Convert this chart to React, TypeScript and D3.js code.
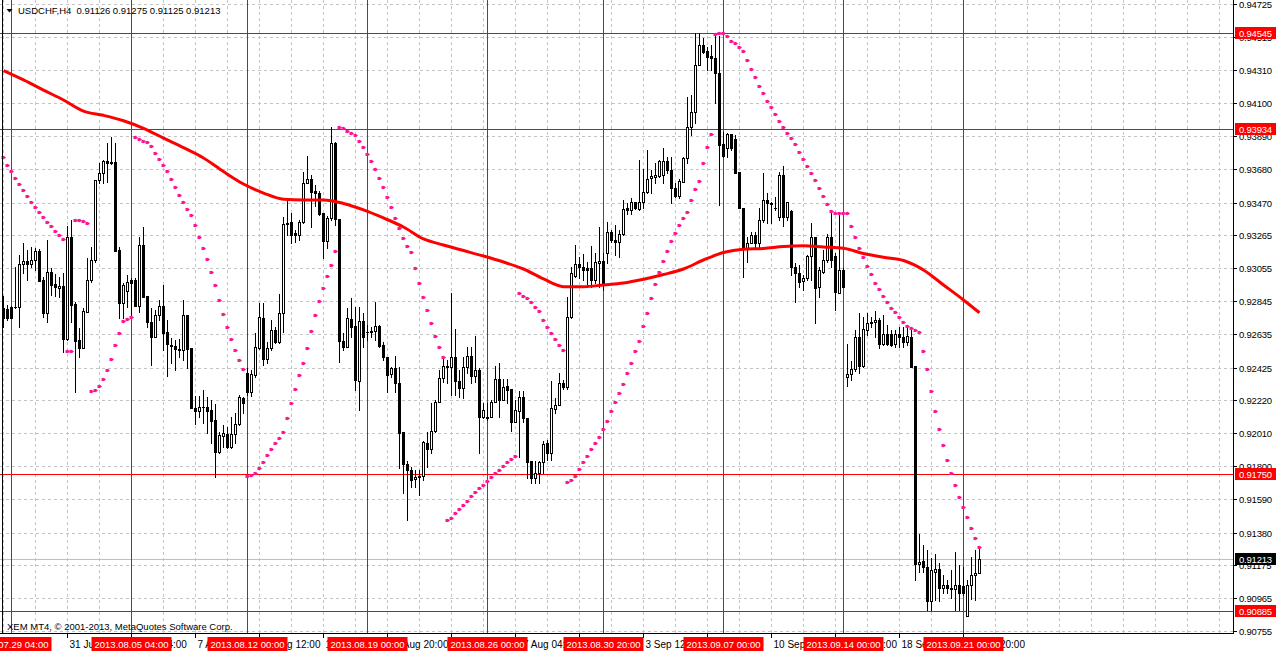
import React, { useEffect } from 'react';
import * as d3 from 'd3';

const W = 1276;
const H = 652;
const PLOT_R = 1233;
const PLOT_B = 633;

const opens = [
  0.92800,0.92796,0.92810,0.92810,0.92806,0.93078,0.93097,0.93080,0.93104,0.93163,
  0.92977,0.92772,0.93028,0.92954,0.92926,0.92941,0.92608,0.93249,0.92825,0.92599,
  0.92551,0.92779,0.92977,0.93104,0.93610,0.93657,0.93732,0.93724,0.93724,0.93169,
  0.92836,0.92907,0.92979,0.92979,0.92817,0.93199,0.92878,0.92711,0.92620,0.92758,
  0.92815,0.92650,0.92566,0.92561,0.92542,0.92536,0.92758,0.92549,0.92171,0.92150,
  0.92177,0.92177,0.92156,0.92093,0.91888,0.91994,0.92004,0.91920,0.92004,0.92066,
  0.92230,0.92388,0.92272,0.92380,0.92549,0.92737,0.92477,0.92549,0.92663,0.92589,
  0.92772,0.93332,0.93346,0.93275,0.93264,0.93344,0.93591,0.93616,0.93543,0.93528,
  0.93401,0.93228,0.93374,0.93844,0.93363,0.92591,0.92557,0.92733,0.92688,0.92342,
  0.92720,0.92652,0.92650,0.92657,0.92688,0.92566,0.92490,0.92384,0.92424,0.92325,
  0.92015,0.91813,0.91777,0.91718,0.91739,0.91739,0.91950,0.91908,0.92026,0.92209,
  0.92361,0.92435,0.92426,0.92490,0.92338,0.92294,0.92431,0.92500,0.92372,0.92410,
  0.92110,0.92114,0.92110,0.92205,0.92351,0.92220,0.92308,0.92287,0.92083,0.92152,
  0.92237,0.92104,0.91832,0.91724,0.91756,0.91829,0.91946,0.91882,0.92161,0.92188,
  0.92325,0.92300,0.92743,0.93007,0.93081,0.93064,0.93054,0.93054,0.92980,0.93089,
  0.93098,0.93153,0.93281,0.93233,0.93218,0.93269,0.93433,0.93423,0.93471,0.93429,
  0.93476,0.93535,0.93628,0.93634,0.93640,0.93644,0.93733,0.93676,0.93560,0.93514,
  0.93602,0.93750,0.93946,0.94041,0.94343,0.94467,0.94431,0.94398,0.94383,0.94288,
  0.93839,0.93818,0.93902,0.93872,0.93664,0.93433,0.93174,0.93216,0.93265,0.93212,
  0.93360,0.93486,0.93469,0.93433,0.93381,0.93644,0.93381,0.93419,0.93064,0.93022,
  0.92976,0.92990,0.93132,0.93250,0.92933,0.93033,0.93106,0.93250,0.93132,0.92900,
  0.93043,0.92363,0.92382,0.92414,0.92616,0.92435,0.92663,0.92705,0.92716,0.92726,
  0.92574,0.92635,0.92635,0.92574,0.92635,0.92616,0.92589,0.92616,0.92437,0.91180,
  0.91201,0.91165,0.90950,0.91133,0.91148,0.91028,0.91049,0.91028,0.91021,0.91049,
  0.91042,0.90850,0.91049,0.91112,0.91126,
];

const highs = [
  0.92878,0.92821,0.92815,0.93064,0.93137,0.93211,0.93169,0.93190,0.93180,0.93173,
  0.93000,0.93232,0.93053,0.93017,0.93000,0.93021,0.93321,0.93359,0.92842,0.92673,
  0.92800,0.93116,0.93190,0.93612,0.93718,0.93739,0.93844,0.93887,0.93849,0.93190,
  0.92958,0.93011,0.92990,0.92990,0.93254,0.93317,0.92878,0.92800,0.92790,0.92853,
  0.92947,0.92726,0.92610,0.92599,0.92603,0.92853,0.92758,0.92549,0.92245,0.92245,
  0.92283,0.92241,0.92220,0.92194,0.92019,0.92061,0.92051,0.92114,0.92135,0.92251,
  0.92241,0.92420,0.92410,0.92642,0.92836,0.92832,0.92589,0.92726,0.92684,0.92891,
  0.93380,0.93492,0.93401,0.93296,0.93359,0.93665,0.93764,0.93644,0.93581,0.93545,
  0.93401,0.93384,0.93950,0.93850,0.93363,0.92642,0.92800,0.92863,0.92811,0.92811,
  0.92769,0.92695,0.92684,0.92842,0.92695,0.92589,0.92494,0.92431,0.92498,0.92431,
  0.92019,0.91836,0.91798,0.91777,0.91777,0.91960,0.92019,0.92203,0.92220,0.92410,
  0.92494,0.92473,0.92895,0.92667,0.92410,0.92494,0.92553,0.92558,0.92625,0.92420,
  0.92199,0.92199,0.92220,0.92435,0.92452,0.92351,0.92351,0.92287,0.92220,0.92279,
  0.92279,0.92104,0.91832,0.91832,0.91832,0.91960,0.91967,0.92338,0.92230,0.92389,
  0.92347,0.92874,0.93064,0.93201,0.93127,0.93144,0.93095,0.93195,0.93148,0.93318,
  0.93148,0.93345,0.93296,0.93328,0.93296,0.93486,0.93465,0.93497,0.93475,0.93739,
  0.93682,0.93800,0.93676,0.93718,0.93739,0.93818,0.93761,0.93761,0.93592,0.93617,
  0.93761,0.94140,0.94151,0.94541,0.94541,0.94510,0.94456,0.94467,0.94531,0.94524,
  0.93919,0.93908,0.93904,0.93898,0.93664,0.93433,0.93254,0.93286,0.93286,0.93433,
  0.93655,0.93528,0.93476,0.93507,0.93666,0.93701,0.93476,0.93422,0.93085,0.93075,
  0.93012,0.93138,0.93339,0.93250,0.93064,0.93170,0.93271,0.93402,0.93149,0.93402,
  0.93054,0.92574,0.92469,0.92663,0.92768,0.92747,0.92768,0.92743,0.92780,0.92737,
  0.92758,0.92694,0.92660,0.92663,0.92684,0.92684,0.92684,0.92684,0.92437,0.91372,
  0.91302,0.91270,0.91217,0.91245,0.91186,0.91112,0.91080,0.91144,0.91260,0.91175,
  0.91165,0.91080,0.91228,0.91270,0.91275,
];

const lows = [
  0.92680,0.92726,0.92737,0.92800,0.92684,0.93026,0.92979,0.93064,0.93042,0.92975,
  0.92747,0.92716,0.92884,0.92880,0.92874,0.92526,0.92599,0.92716,0.92272,0.92494,
  0.92547,0.92775,0.92969,0.93095,0.93591,0.93591,0.93602,0.93712,0.93165,0.92737,
  0.92737,0.92810,0.92747,0.92817,0.92779,0.92874,0.92684,0.92441,0.92620,0.92726,
  0.92536,0.92374,0.92452,0.92410,0.92490,0.92473,0.92420,0.92167,0.92068,0.92114,
  0.92072,0.92009,0.91945,0.91734,0.91882,0.91924,0.91914,0.91914,0.91945,0.92061,
  0.92139,0.92251,0.92245,0.92367,0.92545,0.92441,0.92452,0.92536,0.92583,0.92583,
  0.92652,0.93264,0.93211,0.93222,0.93232,0.93338,0.93591,0.93317,0.93448,0.93391,
  0.93116,0.93180,0.93359,0.93327,0.92462,0.92536,0.92557,0.92621,0.92283,0.92157,
  0.92558,0.92600,0.92621,0.92600,0.92558,0.92473,0.92273,0.92368,0.92273,0.91787,
  0.91629,0.91460,0.91671,0.91671,0.91619,0.91713,0.91798,0.91882,0.92019,0.92209,
  0.92336,0.92325,0.92252,0.92252,0.92241,0.92230,0.92389,0.92325,0.92332,0.91887,
  0.92104,0.92093,0.92110,0.92205,0.92114,0.92220,0.92199,0.92026,0.92083,0.91861,
  0.92083,0.91724,0.91697,0.91697,0.91697,0.91756,0.91840,0.91840,0.92135,0.92188,
  0.92290,0.92287,0.92737,0.93000,0.92990,0.92980,0.92938,0.92938,0.92959,0.92938,
  0.92917,0.93085,0.93222,0.93138,0.93127,0.93264,0.93398,0.93398,0.93427,0.93423,
  0.93433,0.93528,0.93528,0.93592,0.93634,0.93592,0.93655,0.93464,0.93507,0.93497,
  0.93602,0.93718,0.93900,0.93976,0.94341,0.94415,0.94309,0.94309,0.94098,0.93454,
  0.93761,0.93761,0.93803,0.93655,0.93433,0.93001,0.93096,0.93212,0.93191,0.93191,
  0.93349,0.93339,0.93339,0.93422,0.93360,0.93322,0.93360,0.93012,0.92843,0.92938,
  0.92916,0.92980,0.92980,0.92710,0.92874,0.93022,0.93096,0.93064,0.92790,0.92900,
  0.92938,0.92308,0.92346,0.92405,0.92393,0.92427,0.92631,0.92684,0.92616,0.92547,
  0.92568,0.92568,0.92560,0.92557,0.92557,0.92557,0.92568,0.92427,0.91080,0.91133,
  0.91133,0.90891,0.90891,0.90954,0.90950,0.90996,0.90996,0.90964,0.90891,0.90891,
  0.90985,0.90850,0.90958,0.90954,0.91125,
];

const closes = [
  0.92740,0.92741,0.92741,0.92806,0.93078,0.93097,0.93080,0.93104,0.93163,0.92975,
  0.92772,0.93028,0.92950,0.92937,0.92941,0.92608,0.93249,0.92823,0.92595,0.92551,
  0.92783,0.92977,0.93104,0.93610,0.93657,0.93730,0.93718,0.93718,0.93165,0.92836,
  0.92950,0.92964,0.92958,0.92817,0.93199,0.92874,0.92711,0.92620,0.92758,0.92815,
  0.92646,0.92572,0.92564,0.92540,0.92536,0.92758,0.92545,0.92167,0.92150,0.92177,
  0.92173,0.92152,0.92089,0.91888,0.91998,0.92009,0.91920,0.92004,0.92066,0.92241,
  0.92203,0.92272,0.92384,0.92553,0.92743,0.92477,0.92547,0.92663,0.92589,0.92772,
  0.93332,0.93338,0.93264,0.93264,0.93344,0.93591,0.93616,0.93538,0.93528,0.93399,
  0.93228,0.93374,0.93849,0.93363,0.92591,0.92557,0.92737,0.92684,0.92347,0.92720,
  0.92621,0.92648,0.92659,0.92688,0.92562,0.92490,0.92378,0.92420,0.92325,0.92013,
  0.91813,0.91777,0.91713,0.91730,0.91735,0.91956,0.91908,0.92026,0.92209,0.92357,
  0.92435,0.92426,0.92490,0.92338,0.92294,0.92431,0.92498,0.92372,0.92410,0.92110,
  0.92154,0.92104,0.92205,0.92351,0.92220,0.92304,0.92283,0.92083,0.92154,0.92237,
  0.92104,0.91829,0.91724,0.91756,0.91829,0.91941,0.91882,0.92167,0.92188,0.92325,
  0.92304,0.92743,0.93022,0.93081,0.93064,0.93043,0.93043,0.92980,0.93092,0.93098,
  0.92959,0.93281,0.93233,0.93222,0.93269,0.93427,0.93423,0.93471,0.93433,0.93471,
  0.93535,0.93617,0.93640,0.93644,0.93735,0.93733,0.93676,0.93560,0.93514,0.93605,
  0.93750,0.93946,0.94043,0.94341,0.94467,0.94425,0.94394,0.94383,0.94288,0.93834,
  0.93765,0.93904,0.93818,0.93659,0.93433,0.93174,0.93216,0.93265,0.93212,0.93360,
  0.93486,0.93464,0.93461,0.93436,0.93644,0.93381,0.93476,0.93064,0.93022,0.92969,
  0.92995,0.93132,0.93254,0.92927,0.93043,0.93106,0.93250,0.93106,0.92906,0.93043,
  0.92938,0.92382,0.92414,0.92616,0.92435,0.92667,0.92709,0.92716,0.92726,0.92574,
  0.92635,0.92574,0.92568,0.92635,0.92616,0.92589,0.92625,0.92427,0.91180,0.91196,
  0.91165,0.90950,0.91144,0.91148,0.91028,0.91049,0.91028,0.91021,0.91049,0.90996,
  0.90996,0.91049,0.91112,0.91127,0.91213,
];

const sarValues = [
  0.93756,0.93708,0.93670,0.93623,0.93587,0.93547,0.93509,0.93471,0.93440,0.93408,
  0.93376,0.93347,0.93319,0.93290,0.93262,0.93237,0.92530,0.92530,0.93359,0.93359,
  0.93355,0.93338,0.92277,0.92283,0.92308,0.92353,0.92410,0.92479,0.92568,0.92642,
  0.92720,0.92731,0.92743,0.93883,0.93872,0.93858,0.93853,0.93828,0.93782,0.93747,
  0.93708,0.93670,0.93617,0.93566,0.93516,0.93473,0.93427,0.93389,0.93326,0.93250,
  0.93180,0.93110,0.93028,0.92946,0.92851,0.92762,0.92680,0.92604,0.92534,0.92473,
  0.92414,0.91738,0.91745,0.91759,0.91787,0.91825,0.91871,0.91907,0.91945,0.91977,
  0.92019,0.92104,0.92199,0.92287,0.92376,0.92452,0.92547,0.92656,0.92756,0.92846,
  0.92927,0.93005,0.93072,0.93161,0.93950,0.93940,0.93923,0.93912,0.93898,0.93861,
  0.93822,0.93777,0.93733,0.93682,0.93625,0.93568,0.93505,0.93442,0.93372,0.93309,
  0.93245,0.93195,0.93155,0.93053,0.92959,0.92870,0.92788,0.92705,0.92627,0.92557,
  0.92490,0.91460,0.91471,0.91502,0.91528,0.91555,0.91582,0.91612,0.91635,0.91661,
  0.91681,0.91709,0.91730,0.91755,0.91776,0.91804,0.91825,0.91846,0.91865,0.92895,
  0.92878,0.92864,0.92842,0.92810,0.92784,0.92726,0.92680,0.92642,0.92604,0.92568,
  0.92536,0.91698,0.91713,0.91738,0.91781,0.91829,0.91865,0.91907,0.91949,0.91983,
  0.92034,0.92087,0.92150,0.92205,0.92262,0.92321,0.92389,0.92452,0.92530,0.92593,
  0.92688,0.92769,0.92864,0.92952,0.93028,0.93100,0.93163,0.93226,0.93275,0.93328,
  0.93370,0.93408,0.93484,0.93554,0.93606,0.93718,0.93820,0.93902,0.94537,0.94541,
  0.94541,0.94524,0.94495,0.94478,0.94457,0.94429,0.94372,0.94313,0.94263,0.94210,
  0.94162,0.94115,0.94073,0.94029,0.93986,0.93946,0.93908,0.93877,0.93839,0.93790,
  0.93744,0.93701,0.93655,0.93611,0.93564,0.93511,0.93459,0.93416,0.93402,0.93402,
  0.93402,0.93402,0.93321,0.93250,0.93184,0.93123,0.93068,0.93017,0.92962,0.92921,
  0.92876,0.92838,0.92800,0.92775,0.92743,0.92712,0.92688,0.92674,0.92663,0.92652,
  0.92530,0.92414,0.92277,0.92150,0.92036,0.91935,0.91840,0.91755,0.91681,0.91604,
  0.91540,0.91477,0.91407,0.91344,0.91287,
];

const maIndex = [
  0,5,10,15,20,25,30,35,40,45,50,55,60,65,70,75,80,85,90,95,100,105,110,115,120,
  125,130,135,140,145,150,155,160,165,170,175,180,185,190,195,200,205,210,215,220,
  225,230,235,240,244,
];
const maValues = [
  0.94305,0.94246,0.94182,0.94119,0.94049,0.94022,0.93988,0.93940,0.93878,0.93817,
  0.93752,0.93666,0.93587,0.93530,0.93490,0.93486,0.93486,0.93464,0.93423,0.93372,
  0.93315,0.93239,0.93201,0.93166,0.93131,0.93093,0.93049,0.92986,0.92937,0.92937,
  0.92948,0.92960,0.92984,0.93014,0.93049,0.93106,0.93153,0.93174,0.93179,0.93191,
  0.93196,0.93188,0.93180,0.93147,0.93123,0.93103,0.93043,0.92948,0.92853,0.92772,
];

const priceTickLabels = [
  '0.94725','0.94515','0.94310','0.94100','0.93890','0.93680','0.93470','0.93265',
  '0.93055','0.92845','0.92635','0.92425','0.92220','0.92010','0.91800','0.91590',
  '0.91380','0.91175','0.90965','0.90755',
];

const hLineValues = [0.94545, 0.93934, 0.91750, 0.90885];
const hLineLabels = ['0.94545', '0.93934', '0.91750', '0.90885'];
const bidValue = 0.91213;
const bidLabel = '0.91213';

const vLineIndex = [2, 32, 61, 91, 121, 150, 180, 210, 240];
const vLineLabels = [
  '2013.07.29 04:00', '2013.08.05 04:00', '2013.08.12 00:00', '2013.08.19 00:00',
  '2013.08.26 00:00', '2013.08.30 20:00', '2013.09.07 00:00', '2013.09.14 00:00',
  '2013.09.21 00:00',
];

const timeTickIndex = [16, 32, 48, 64, 80, 96, 112, 128, 144, 160, 176, 192, 208, 224, 240];
const timeTickLabels = [
  '31 Jul 12:00', '5 Aug 04:00', '7 Aug 20:00', '12 Aug 12:00', '15 Aug 04:00',
  '19 Aug 20:00', '22 Aug 12:00', '27 Aug 04:00', '29 Aug 20:00', '3 Sep 12:00',
  '6 Sep 04:00', '10 Sep 20:00', '13 Sep 12:00', '18 Sep 04:00', '20 Sep 20:00',
];

const headerText = 'USDCHF,H4  0.91126 0.91275 0.91125 0.91213';
const copyrightText = 'XEM MT4, \u00A9 2001-2013, MetaQuotes Software Corp.';

const FONT = "'Liberation Sans', Arial, sans-serif";
const SAR_COLOR = '#ff1493';
const GRID = '#c4c4c4';

export default function App() {
  useEffect(() => {
    document.body.style.margin = '0';
  }, []);

  const x = d3.scaleLinear().domain([0, 244]).range([3.5, 979.5]);
  const y = d3.scaleLinear().domain([0.90755, 0.94725]).range([631.3, 4.3]);
  const py = (v: number) => Math.round(y(v)) + 0.5;

  const gridIdx: number[] = [];
  for (let i = 0; x(i) < PLOT_R; i += 8) gridIdx.push(i);

  const maPath = d3
    .line<number>()
    .x((_, k) => x(maIndex[k]))
    .y((d) => y(d))
    .curve(d3.curveMonotoneX)(maValues) as string;

  return (
    <svg
      width={W}
      height={H}
      style={{ display: 'block', position: 'absolute', left: 0, top: 0, background: '#fff' }}
      fontFamily={FONT}
    >
      <defs>
        <clipPath id="timeAxisClip">
          <rect x={0} y={PLOT_B + 1} width={W} height={H - PLOT_B} />
        </clipPath>
      </defs>
      <rect x={0} y={0} width={W} height={H} fill="#fff" />
      {/* grid */}
      <g stroke={GRID} strokeDasharray="3,3" strokeWidth={1}>
        {priceTickLabels.map((t) => (
          <line key={'gh' + t} x1={0} x2={PLOT_R} y1={py(+t)} y2={py(+t)} />
        ))}
        {gridIdx.map((i) => (
          <line key={'gv' + i} x1={x(i)} x2={x(i)} y1={0} y2={PLOT_B} />
        ))}
      </g>
      {/* bid line */}
      <line x1={0} x2={PLOT_R} y1={py(bidValue)} y2={py(bidValue)} stroke="#c0c0c0" />
      {/* objects */}
      <g stroke="#ff0000" strokeWidth={1}>
        {hLineValues.map((v, k) => (
          <line key={'hl' + k} x1={0} x2={PLOT_R} y1={py(v)} y2={py(v)} />
        ))}
        {vLineIndex.map((i, k) => (
          <line key={'vl' + k} x1={x(i)} x2={x(i)} y1={0} y2={PLOT_B} />
        ))}
      </g>
      {/* candles */}
      <g>
        {opens.map((o, i) => {
          const c = closes[i];
          const h = Math.max(highs[i], o, c);
          const l = Math.min(lows[i], o, c);
          const cx = x(i);
          const yO = Math.round(y(o));
          const yC = Math.round(y(c));
          const yH = Math.round(y(h));
          const yL = Math.round(y(l));
          const top = Math.min(yO, yC);
          const bot = Math.max(yO, yC);
          const bull = c >= o;
          return (
            <g key={'c' + i}>
              <line x1={cx} x2={cx} y1={yH} y2={yL + 1} stroke="#000" />
              {bot - top < 1 ? (
                <line x1={cx - 1.5} x2={cx + 1.5} y1={top + 0.5} y2={top + 0.5} stroke="#000" />
              ) : (
                <rect
                  x={cx - 1}
                  y={top + 0.5}
                  width={2}
                  height={bot - top}
                  fill={bull ? '#fff' : '#000'}
                  stroke="#000"
                />
              )}
            </g>
          );
        })}
      </g>
      {/* moving average */}
      <path d={maPath} fill="none" stroke="#ff0000" strokeWidth={3} />
      {/* parabolic SAR */}
      <g fill={SAR_COLOR}>
        {sarValues.map((v, i) => {
          const cx = x(i);
          const yy = Math.round(y(v)) + 0.5;
          return (
            <path
              key={'s' + i}
              d={`M${cx - 2},${yy - 1.5}h2v-0.5l2.5,2l-2.5,2v-0.5h-2z`}
            />
          );
        })}
      </g>
      {/* header */}
      <path d="M6.5,9 L12.5,9 L9.5,12.5 Z" fill="#000" />
      <text x={18} y={14} fontSize={9.5} fill="#000" style={{ whiteSpace: 'pre' }}>
        {headerText}
      </text>
      <text x={7} y={630} fontSize={9.5} fill="#000">
        {copyrightText}
      </text>
      {/* axes */}
      <rect x={PLOT_R + 1} y={0} width={W - PLOT_R} height={H} fill="#fff" />
      <rect x={0} y={PLOT_B + 1} width={W} height={H - PLOT_B} fill="#fff" />
      <line x1={PLOT_R + 0.5} x2={PLOT_R + 0.5} y1={0} y2={PLOT_B + 1} stroke="#000" />
      <line x1={0} x2={PLOT_R + 1} y1={PLOT_B + 0.5} y2={PLOT_B + 0.5} stroke="#000" />
      <line x1={2.5} x2={2.5} y1={0} y2={PLOT_B} stroke="#000" />
      <g fontSize={9.5} fill="#000" letterSpacing={-0.2}>
        {priceTickLabels.map((t) => (
          <g key={'pt' + t}>
            <line x1={PLOT_R} x2={PLOT_R + 4} y1={py(+t)} y2={py(+t)} stroke="#000" />
            <text x={1239} y={py(+t) + 3.5}>
              {t}
            </text>
          </g>
        ))}
      </g>
      <g fontSize={10} fill="#000" clipPath="url(#timeAxisClip)">
        {timeTickIndex.map((i, k) => (
          <g key={'tt' + i}>
            <line x1={x(i)} x2={x(i)} y1={PLOT_B} y2={PLOT_B + 5} stroke="#000" />
            <text x={x(i) + 2} y={648}>
              {timeTickLabels[k]}
            </text>
          </g>
        ))}
      </g>
      {/* vertical line labels */}
      <g fontSize={9.5}>
        {vLineIndex.map((i, k) => (
          <g key={'vlab' + k}>
            <rect x={x(i) - 40} y={637} width={80} height={14} fill="#ff0000" />
            <text x={x(i)} y={648} fill="#fff" textAnchor="middle">
              {vLineLabels[k]}
            </text>
          </g>
        ))}
      </g>
      {/* price labels */}
      <g fontSize={9.5} letterSpacing={-0.2}>
        {hLineValues.map((v, k) => (
          <g key={'hlab' + k}>
            <rect x={1235} y={py(v) - 6.5} width={41} height={12} fill="#ff0000" />
            <text x={1239} y={py(v) + 3.5} fill="#fff">
              {hLineLabels[k]}
            </text>
          </g>
        ))}
        <rect x={1235} y={py(bidValue) - 6.5} width={41} height={12} fill="#000" />
        <text x={1239} y={py(bidValue) + 3.5} fill="#fff">
          {bidLabel}
        </text>
      </g>
    </svg>
  );
}
